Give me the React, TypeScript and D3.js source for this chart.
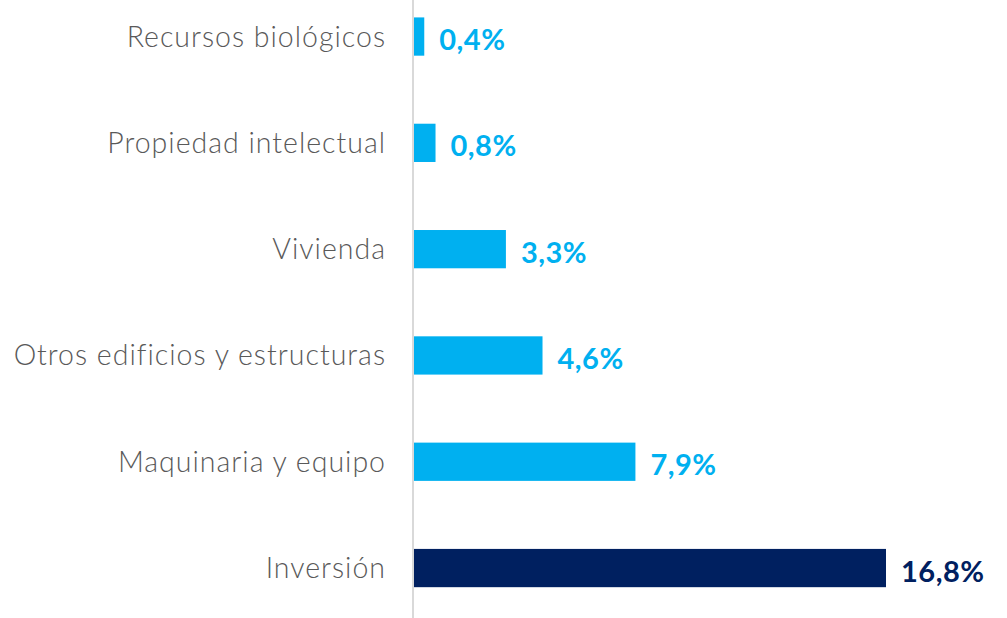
import React from "react";
import * as d3 from "d3";

const categories = [
  "Recursos biológicos",
  "Propiedad intelectual",
  "Vivienda",
  "Otros edificios y estructuras",
  "Maquinaria y equipo",
  "Inversión",
];
const values = [0.4, 0.8, 3.3, 4.6, 7.9, 16.8];
const valueLabels = ["0,4%", "0,8%", "3,3%", "4,6%", "7,9%", "16,8%"];
const highlight = ["Inversión"];

const W = 1007;
const H = 618;

export default function App() {
  const x = d3.scaleLinear().domain([0, 16.8]).range([413, 886]);
  const y = d3
    .scaleBand<string>()
    .domain(categories)
    .range([-16.6, 621.2])
    .paddingInner(0.64)
    .paddingOuter(0.32);
  const font = "'Century Gothic', 'Lato', 'DejaVu Sans', sans-serif";
  return (
    <svg
      width={W}
      height={H}
      style={{ position: "absolute", left: 0, top: 0, background: "#fff" }}
      fontFamily={font}
    >
      {categories.map((c, i) => {
        const col = highlight.includes(c) ? "#002060" : "#00B0F0";
        const yc = (y(c) as number) + y.bandwidth() / 2;
        return (
          <g key={c}>
            <rect
              x={x(0)}
              y={y(c)}
              width={x(values[i]) - x(0)}
              height={y.bandwidth()}
              fill={col}
            />
            <text
              x={386}
              y={yc - 1}
              textAnchor="end"
              dominantBaseline="central"
              fontSize={28.5}
              fontWeight={300}
              letterSpacing={1}
              fill="#595959"
            >
              {c}
            </text>
            <text
              x={x(values[i]) + 15}
              y={yc + 2}
              dominantBaseline="central"
              fontSize={29}
              fontWeight="bold"
              letterSpacing={0.5}
              fill={col}
            >
              {valueLabels[i]}
            </text>
          </g>
        );
      })}
      <line x1={x(0)} x2={x(0)} y1={0} y2={H} stroke="#D9D9D9" strokeWidth={2} />
    </svg>
  );
}
